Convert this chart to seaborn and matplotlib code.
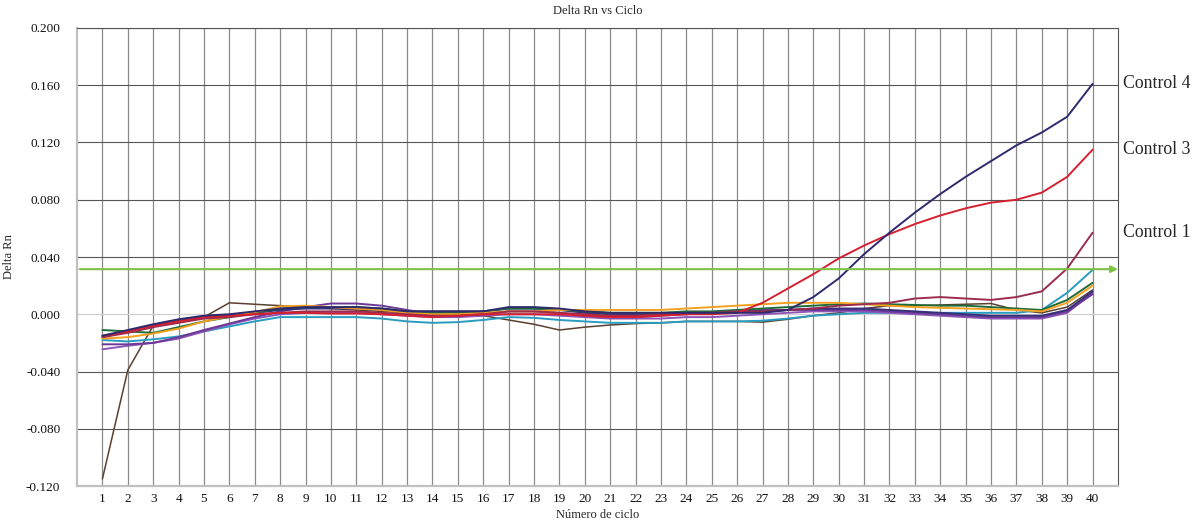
import numpy as np
import pandas as pd
import matplotlib
matplotlib.use("Agg")
import matplotlib.pyplot as plt
import seaborn as sns

cycles = list(range(1, 41))

control4 = [-0.015, -0.011, -0.007, -0.0035, -0.001, 0.000, 0.002, 0.004, 0.005, 0.005,
            0.005, 0.004, 0.002, 0.002, 0.002, 0.002, 0.005, 0.005, 0.004, 0.002,
            0.001, 0.001, 0.001, 0.001, 0.001, 0.001, 0.001, 0.003, 0.012, 0.025,
            0.042, 0.057, 0.071, 0.084, 0.096, 0.107, 0.118, 0.127, 0.138, 0.161]
control3 = [-0.015, -0.012, -0.008, -0.005, -0.002, -0.001, 0.000, 0.001, 0.001, 0.0005,
            0.0005, 0.000, -0.001, -0.002, -0.001, 0.000, 0.000, 0.000, 0.000, -0.001,
            -0.002, -0.002, -0.001, 0.000, 0.000, 0.001, 0.008, 0.018, 0.028, 0.039,
            0.048, 0.056, 0.063, 0.069, 0.074, 0.078, 0.080, 0.085, 0.096, 0.115]
control1 = [-0.016, -0.013, -0.009, -0.006, -0.003, -0.002, 0.000, 0.001, 0.002, 0.002,
            0.002, 0.001, 0.000, -0.001, -0.001, 0.000, 0.002, 0.002, 0.001, 0.000,
            -0.001, -0.001, 0.000, 0.001, 0.001, 0.002, 0.002, 0.003, 0.004, 0.006,
            0.007, 0.008, 0.011, 0.012, 0.011, 0.010, 0.012, 0.016, 0.032, 0.057]
sample_brown = [-0.115, -0.039, -0.008, -0.0045, -0.002, 0.008, 0.007, 0.006, 0.005, 0.004,
                0.003, 0.002, 0.001, 0.000, -0.001, -0.001, -0.004, -0.007, -0.011, -0.009,
                -0.0075, -0.0065, -0.006, -0.005, -0.005, -0.005, -0.0055, -0.0035, -0.001, 0.001,
                0.004, 0.006, 0.006, 0.0065, 0.007, 0.0075, 0.003, 0.001, 0.005, 0.017]
sample_green = [-0.011, -0.012, -0.013, -0.009, -0.005, -0.002, 0.001, 0.004, 0.005, 0.005,
                0.005, 0.004, 0.002, 0.001, 0.001, 0.002, 0.004, 0.004, 0.003, 0.002,
                0.001, 0.001, 0.001, 0.002, 0.002, 0.003, 0.004, 0.005, 0.006, 0.007,
                0.0075, 0.007, 0.0065, 0.006, 0.006, 0.005, 0.004, 0.003, 0.010, 0.022]
sample_orange = [-0.017, -0.016, -0.0135, -0.010, -0.005, -0.0015, 0.0015, 0.0055, 0.006, 0.005,
                 0.004, 0.003, 0.001, 0.000, 0.000, 0.001, 0.002, 0.002, 0.003, 0.003,
                 0.003, 0.003, 0.003, 0.004, 0.005, 0.006, 0.007, 0.008, 0.008, 0.008,
                 0.007, 0.006, 0.005, 0.0045, 0.004, 0.0035, 0.003, 0.002, 0.008, 0.020]
sample_teal = [-0.018, -0.019, -0.0175, -0.0155, -0.012, -0.0085, -0.005, -0.002, -0.002, -0.002,
               -0.002, -0.003, -0.005, -0.006, -0.0055, -0.004, -0.002, -0.0025, -0.004, -0.005,
               -0.006, -0.006, -0.006, -0.005, -0.005, -0.005, -0.0045, -0.003, -0.001, 0.000,
               0.001, 0.001, 0.001, 0.001, 0.001, 0.001, 0.001, 0.003, 0.015, 0.031]
sample_purple = [-0.021, -0.021, -0.020, -0.016, -0.011, -0.0065, -0.002, 0.002, 0.005, 0.0075,
                 0.0075, 0.006, 0.003, 0.000, -0.001, 0.000, 0.002, 0.002, 0.001, -0.001,
                 -0.002, -0.002, -0.001, 0.000, 0.001, 0.002, 0.003, 0.003, 0.003, 0.003,
                 0.003, 0.002, 0.001, 0.000, -0.001, -0.002, -0.002, -0.002, 0.002, 0.014]
sample_violet = [-0.0245, -0.022, -0.020, -0.017, -0.012, -0.007, -0.003, 0.000, 0.001, 0.001,
                 0.001, 0.000, -0.001, -0.002, -0.002, -0.001, 0.000, 0.000, -0.001, -0.002,
                 -0.003, -0.003, -0.003, -0.002, -0.002, -0.001, 0.000, 0.001, 0.002, 0.002,
                 0.002, 0.001, 0.000, -0.001, -0.002, -0.003, -0.003, -0.003, 0.001, 0.015]
sample_navy = [-0.016, -0.012, -0.008, -0.005, -0.002, -0.001, 0.001, 0.003, 0.004, 0.004,
               0.004, 0.003, 0.002, 0.002, 0.002, 0.002, 0.004, 0.004, 0.003, 0.001,
               0.000, 0.000, 0.000, 0.001, 0.001, 0.002, 0.002, 0.003, 0.004, 0.004,
               0.004, 0.003, 0.002, 0.001, 0.000, -0.001, -0.001, -0.001, 0.003, 0.016]

threshold = 0.0315

series = {
    "Brown": sample_brown,
    "Teal": sample_teal,
    "Violet": sample_violet,
    "Purple": sample_purple,
    "Navy": sample_navy,
    "Green": sample_green,
    "Orange": sample_orange,
    "Control 1": control1,
    "Control 3": control3,
    "Control 4": control4,
}
palette = {
    "Brown": "#5a4030",
    "Teal": "#2a9cc0",
    "Violet": "#8e55b8",
    "Purple": "#6e3896",
    "Navy": "#35307a",
    "Green": "#1f6b3a",
    "Orange": "#f4a020",
    "Control 1": "#9c2c4e",
    "Control 3": "#d42030",
    "Control 4": "#2e2a6e",
}
labels = ["Control 4", "Control 3", "Control 1"]

df = pd.concat([pd.DataFrame({"Ciclo": cycles, "Delta Rn": v, "Serie": k})
                for k, v in series.items()], ignore_index=True)

sns.set_theme(style="white")
plt.rcParams['font.family'] = ['Liberation Serif', 'DejaVu Serif']

fig = plt.figure(figsize=(11.98, 5.23), dpi=100)
ax = fig.add_axes([0.0643, 0.0707, 0.8689, 0.8758])

# grid
for xv in range(1, 41):
    ax.axvline(xv, color="#8a8a8a", lw=0.9, zorder=0)
for yv in np.arange(-0.08, 0.2001, 0.04):
    if abs(yv) < 1e-9:
        ax.axhline(yv, color="#d0d0d0", lw=0.9, zorder=0)
    else:
        ax.axhline(yv, color="#555555", lw=0.8, zorder=0)

sns.lineplot(data=df, x="Ciclo", y="Delta Rn", hue="Serie", palette=palette,
             hue_order=list(series.keys()), ax=ax, legend=False, linewidth=1.4,
             sort=False, estimator=None)
for line in ax.get_lines():
    if line.get_color() == palette["Brown"]:
        line.set_linewidth(1.1)

# threshold arrow
ax.annotate("", xy=(41, threshold), xytext=(0.1, threshold),
            arrowprops=dict(arrowstyle="-|>", color="#7dc242", lw=1.5,
                            mutation_scale=10, shrinkA=0, shrinkB=0), zorder=5)

ax.set_xlim(0, 41)
ax.set_ylim(-0.120, 0.200)
ax.set_xticks(cycles)
ax.set_xticklabels([str(c) for c in cycles])
yt = np.round(np.arange(-0.12, 0.2001, 0.04), 3)
ax.set_yticks(yt)
ax.set_yticklabels([f"{v:.3f}" for v in yt])
ax.tick_params(axis="both", length=0, labelsize=9.5, colors="#111111")
ax.tick_params(axis="y", pad=12)
ax.tick_params(axis="x", pad=5)

for s in ["left", "bottom"]:
    ax.spines[s].set_color("#c0c0c0")
    ax.spines[s].set_linewidth(1.6)
for s in ["top", "right"]:
    ax.spines[s].set_color("#555555")
    ax.spines[s].set_linewidth(0.8)

ax.set_title("Delta Rn vs Ciclo", fontsize=9, pad=10)
ax.set_xlabel("Número de ciclo", fontsize=9, labelpad=3)
ax.set_ylabel("Delta Rn", fontsize=9, labelpad=8)

for name in labels:
    ax.text(41.2, series[name][-1], name, fontsize=12.8, va="center", ha="left",
            clip_on=False)

fig.savefig("out.png", dpi=100)
